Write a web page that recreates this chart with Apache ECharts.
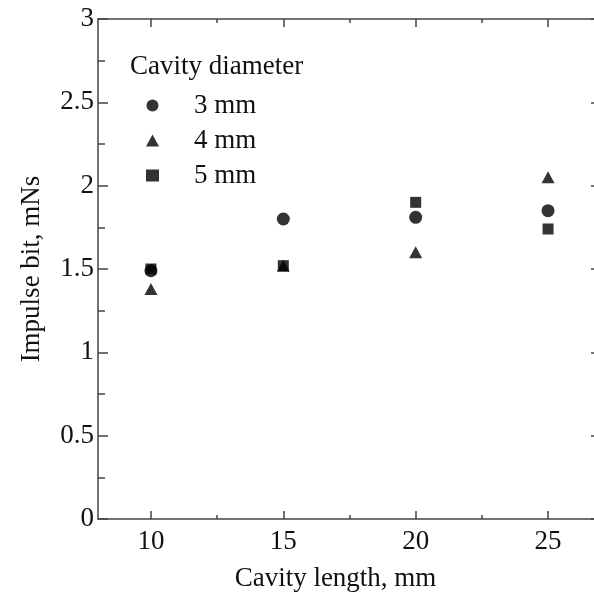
<!DOCTYPE html>
<html>
<head>
<meta charset="utf-8">
<script src="https://cdn.jsdelivr.net/npm/echarts@6/dist/echarts.min.js"></script>
<style>
  html, body { margin: 0; padding: 0; background: #fff; overflow: hidden; }
  #chart { width: 602px; height: 599px; }
</style>
</head>
<body>
<div id="chart"></div>
<script>
(function(){
    // cavity length, mm
    var lengths = [10, 15, 20, 25];
    // impulse bit, mNs, per cavity diameter
    var d3mm = [1.49, 1.80, 1.81, 1.85];
    var d4mm = [1.38, 1.52, 1.60, 2.05];
    var d5mm = [1.50, 1.52, 1.90, 1.74];
    var seriesNames = ['3 mm', '4 mm', '5 mm'];
    var xMajor = [10, 15, 20, 25];
    var xMinor = [12.5, 17.5, 22.5];

    var font = '"Liberation Serif", "Times New Roman", serif';
    var fs = 27;
    var axisColor = '#444';

    function pairs(ys){
        return lengths.map(function(x, i){ return [x, ys[i]]; });
    }

    function xAx(pos, ticks, len, showLabel, showLine){
        return {
            type: 'value', position: pos, min: 8, max: 27,
            axisLine: { show: showLine, lineStyle: { color: axisColor, width: 1.5 } },
            axisTick: { show: true, inside: true, length: len, customValues: ticks,
                lineStyle: { color: axisColor, width: 1.5 } },
            axisLabel: { show: showLabel, customValues: ticks, margin: 9,
                fontFamily: font, fontSize: fs, color: '#111' },
            splitLine: { show: false }
        };
    }

    var myChart = echarts.init(document.getElementById('chart'));
    var xBottom = xAx('bottom', xMajor, 8, true, true);
    xBottom.name = 'Cavity length, mm';
    xBottom.nameLocation = 'middle';
    xBottom.nameGap = 46;
    xBottom.nameTextStyle = { fontFamily: font, fontSize: fs, color: '#111', padding: [0, 28, 0, 0] };

    function yAx(pos, showLabel){
        return {
            type: 'value', position: pos, min: 0, max: 3, interval: 0.5,
            axisLine: { show: true, lineStyle: { color: axisColor, width: 1.5 } },
            axisTick: { inside: true, length: 10, lineStyle: { color: axisColor, width: 1.5 } },
            minorTick: { show: true, splitNumber: 2, length: 7, lineStyle: { color: axisColor, width: 1.5 } },
            axisLabel: { show: showLabel, margin: 4, fontFamily: font, fontSize: fs, color: '#111' },
            splitLine: { show: false }, minorSplitLine: { show: false }
        };
    }
    var yLeft = yAx('left', true);
    yLeft.name = 'Impulse bit, mNs';
    yLeft.nameLocation = 'middle';
    yLeft.nameGap = 53;
    yLeft.nameTextStyle = { fontFamily: font, fontSize: fs, color: '#111' };

    var option = {
        backgroundColor: '#fff',
        animation: false,
        grid: { left: 98, right: 1, top: 19, bottom: 80 },
        title: {
            text: 'Cavity diameter', left: 125, top: 48,
            textStyle: { fontFamily: font, fontSize: fs, fontWeight: 'normal', color: '#111' }
        },
        legend: {
            orient: 'vertical', left: 141, top: 87,
            itemWidth: 13, itemHeight: 12, itemGap: 8,
            data: seriesNames,
            textStyle: { fontFamily: font, fontSize: fs, color: '#111', padding: [0, 0, 0, 30] }
        },
        xAxis: [
            xBottom,
            xAx('bottom', xMinor, 4, false, false),
            xAx('top', xMajor, 8, false, true),
            xAx('top', xMinor, 4, false, false)
        ],
        yAxis: [yLeft, yAx('right', false)],
        series: [
            { name: seriesNames[0], type: 'scatter', symbol: 'circle', symbolSize: 13,
              itemStyle: { color: '#000' }, data: pairs(d3mm), z: 3 },
            { name: seriesNames[1], type: 'scatter', symbol: 'triangle', symbolSize: [13, 12],
              itemStyle: { color: '#000' }, data: pairs(d4mm), z: 2 },
            { name: seriesNames[2], type: 'scatter', symbol: 'rect', symbolSize: 11,
              itemStyle: { color: '#000' }, data: pairs(d5mm), z: 4 }
        ]
    };
    myChart.setOption(option);
})();
</script>
</body>
</html>
